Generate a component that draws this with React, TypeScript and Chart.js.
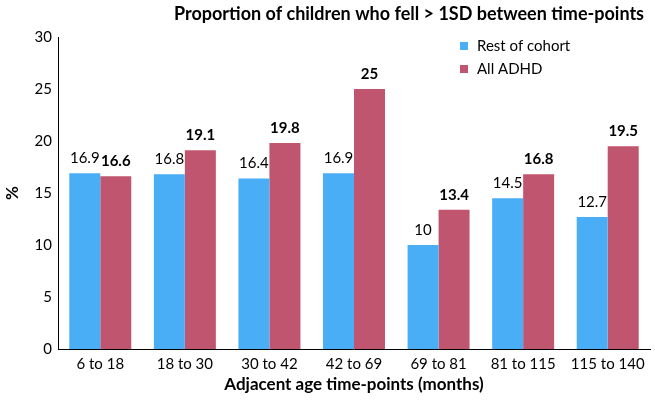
import React, { useEffect, useRef } from "react";
import { Chart, registerables } from "chart.js";

Chart.register(...registerables);

const categories = ["6 to 18", "18 to 30", "30 to 42", "42 to 69", "69 to 81", "81 to 115", "115 to 140"];
const restOfCohort = [16.9, 16.8, 16.4, 16.9, 10, 14.5, 12.7];
const allADHD = [16.6, 19.1, 19.8, 25, 13.4, 16.8, 19.5];
const seriesNames = ["Rest of cohort", "All ADHD"];
const yTicks = [0, 5, 10, 15, 20, 25, 30];
const chartTitle = "Proportion of children who fell > 1SD between time-points";
const xTitle = "Adjacent age time-points (months)";
const yTitle = "%";

const FONT = "Lato, 'Open Sans', sans-serif";
const BLUE = "#4AAEF6";
const RED = "#C0556F";

const overlayPlugin = {
  id: "overlay",
  afterDatasetsDraw(chart: any) {
    const ctx = chart.ctx;
    ctx.save();
    // data labels
    chart.data.datasets.forEach((ds: any, di: number) => {
      const meta = chart.getDatasetMeta(di);
      ctx.font = (di === 1 ? "bold " : "") + "15px " + FONT;
      ctx.fillStyle = "#000";
      ctx.textAlign = "center";
      ctx.textBaseline = "alphabetic";
      meta.data.forEach((bar: any, i: number) => {
        ctx.fillText(String(ds.data[i]), bar.x, bar.y - 10);
      });
    });
    // title
    ctx.font = "bold 18px " + FONT;
    ctx.textAlign = "center";
    ctx.fillText(chartTitle, 409, 20);
    // legend
    ctx.font = "15px " + FONT;
    ctx.textAlign = "left";
    ctx.textBaseline = "middle";
    chart.data.datasets.forEach((ds: any, di: number) => {
      const y = 46 + di * 23;
      ctx.fillStyle = ds.backgroundColor;
      ctx.fillRect(460, y - 4, 8, 8);
      ctx.fillStyle = "#000";
      ctx.fillText(ds.label, 477, y);
    });
    ctx.restore();
  },
};

export default function App() {
  const ref = useRef<HTMLCanvasElement>(null);
  useEffect(() => {
    if (!ref.current) return;
    const chart = new Chart(ref.current, {
      type: "bar",
      data: {
        labels: categories,
        datasets: [
          { label: seriesNames[0], data: restOfCohort, backgroundColor: BLUE },
          { label: seriesNames[1], data: allADHD, backgroundColor: RED },
        ],
      },
      options: {
        animation: false,
        responsive: false,
        maintainAspectRatio: false,
        layout: { padding: { top: 37, right: 5, left: 0, bottom: 0 } },
        datasets: { bar: { categoryPercentage: 0.733, barPercentage: 1 } },
        plugins: { legend: { display: false }, title: { display: false }, tooltip: { enabled: false } },
        scales: {
          x: {
            grid: { display: false, drawTicks: false },
            border: { display: true, color: "#000", width: 1 },
            ticks: { color: "#000", font: { family: FONT, size: 15 }, padding: 6, maxRotation: 0, autoSkip: false },
            title: { display: true, text: xTitle, color: "#000", font: { family: FONT, size: 17, weight: "bold" }, padding: { top: 0, bottom: 5 } },
            afterFit: (s: any) => { s.height = 51; },
          },
          y: {
            min: 0,
            max: 30,
            afterBuildTicks: (s: any) => { s.ticks = yTicks.map((v) => ({ value: v })); },
            grid: { display: false, drawTicks: false },
            border: { display: true, color: "#000", width: 1 },
            ticks: { color: "#000", font: { family: FONT, size: 15 }, padding: 6 },
            title: { display: true, text: yTitle, color: "#000", font: { family: FONT, size: 17, weight: "bold" }, padding: { top: 2, bottom: 0 } },
            afterFit: (s: any) => { s.width = 58; },
          },
        },
      },
      plugins: [overlayPlugin],
    });
    return () => chart.destroy();
  }, []);
  return (
    <div style={{ position: "absolute", left: 0, top: 0, width: 655, height: 400 }}>
      <canvas ref={ref} width={655} height={400} style={{ display: "block" }} />
    </div>
  );
}
